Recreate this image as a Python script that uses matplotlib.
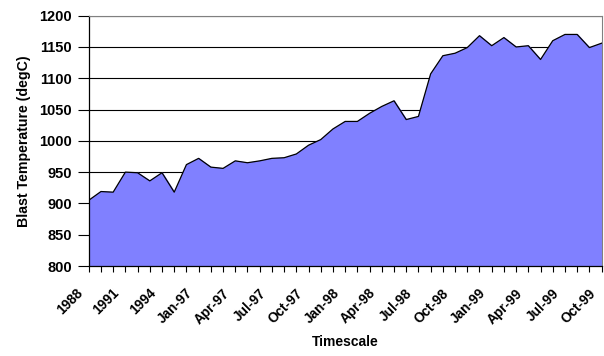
import numpy as np
import matplotlib
matplotlib.use("Agg")
import matplotlib.pyplot as plt

plt.rcParams['font.family'] = ['Liberation Sans', 'DejaVu Sans']

# category labels (43 points: yearly then monthly)
periods = (['1988', '1989', '1990', '1991', '1992', '1993', '1994', '1995', '1996']
           + [f"{m}-{y}" for y in ['97', '98', '99']
              for m in ['Jan', 'Feb', 'Mar', 'Apr', 'May', 'Jun', 'Jul', 'Aug',
                        'Sep', 'Oct', 'Nov', 'Dec']])[:43]

blast_temp = [905, 919, 918, 950, 949, 936, 949, 918, 962, 972,
              958, 956, 968, 965, 968, 972, 973, 979, 993, 1002,
              1019, 1031, 1031, 1044, 1055, 1064, 1034, 1039, 1107, 1136,
              1140, 1149, 1168, 1152, 1165, 1150, 1152, 1130, 1160, 1170,
              1170, 1149, 1156]

x = np.arange(len(blast_temp))

fig = plt.figure(figsize=(6.04, 3.56), dpi=100)
ax = fig.add_axes([0.1469, 0.2528, 0.996 - 0.1469, 0.956 - 0.2528])

ax.fill_between(x, 800, blast_temp, color='#8080FF', zorder=2)
ax.plot(x, blast_temp, color='black', linewidth=0.9, zorder=3)

ax.set_xlim(0, len(x) - 1)
ax.set_ylim(800, 1200)
ax.set_yticks(np.arange(800, 1201, 50))
ax.yaxis.grid(True, color='black', linewidth=0.8, zorder=1)
ax.set_axisbelow(True)

# every tick gets a mark, every third one a rotated label
ax.set_xticks(x)
ax.set_xticklabels([])
for i in range(0, len(x), 3):
    ax.annotate(periods[i], xy=(x[i], 0), xycoords=('data', 'axes fraction'),
                xytext=(-6, -18), textcoords='offset points',
                rotation=45, ha='right', va='center', rotation_mode='anchor',
                fontsize=9.8, fontweight='bold', annotation_clip=False)

for lbl in ax.get_yticklabels():
    lbl.set_fontsize(10.5)
    lbl.set_fontweight('bold')

ax.tick_params(axis='x', length=4, width=0.8)
ax.tick_params(axis='y', length=8, width=0.8, pad=4)

for side in ['top', 'right']:
    ax.spines[side].set_color('#808080')
    ax.spines[side].set_linewidth(0.8)
for side in ['left', 'bottom']:
    ax.spines[side].set_color('black')
    ax.spines[side].set_linewidth(0.9)

ax.text(0.5, -0.304, 'Timescale', transform=ax.transAxes, ha='center', va='center',
        fontsize=10, fontweight='bold')
ax.set_ylabel('Blast Temperature (degC)', fontsize=10.2, fontweight='bold', labelpad=6)

fig.savefig('out.png', dpi=100)
